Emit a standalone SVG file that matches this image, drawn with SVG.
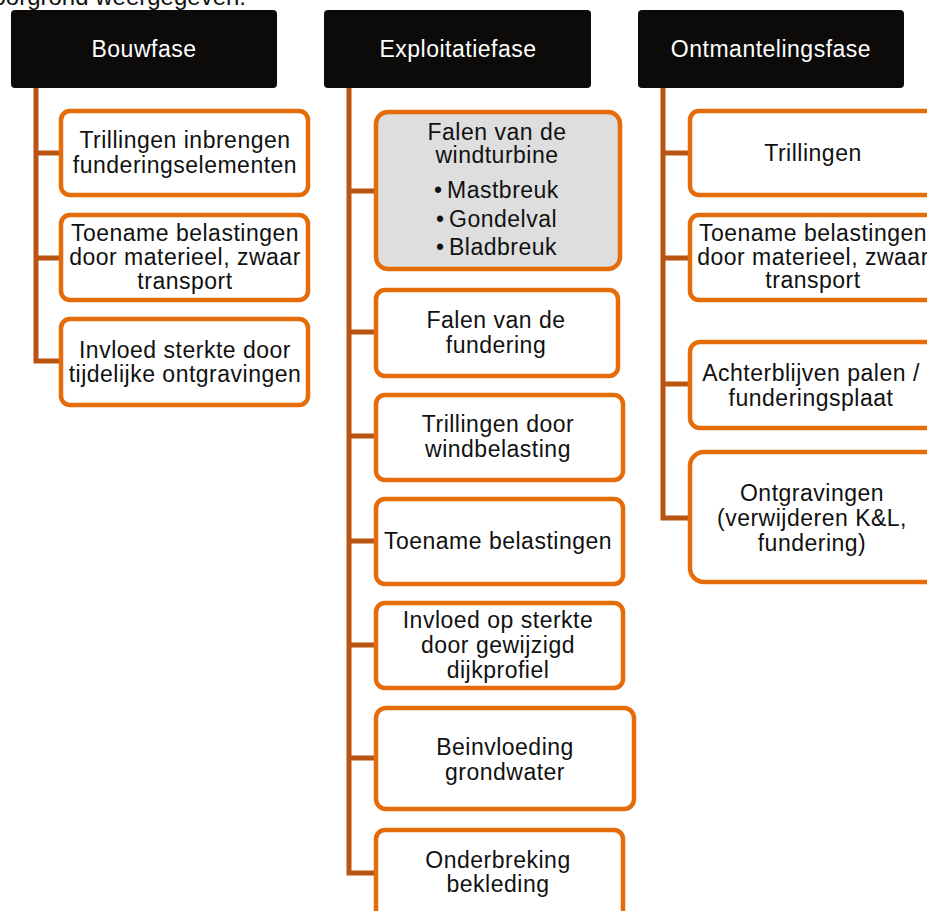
<svg xmlns="http://www.w3.org/2000/svg" width="927" height="911" viewBox="0 0 927 911">
<style>
text{font-family:"Liberation Sans",Arial,sans-serif;font-size:23px;fill:#111;text-anchor:middle;letter-spacing:0.5px}
.hdr rect{fill:#0d0b0a}
.hdr text{fill:#fff}
.box rect{fill:#fff;stroke:#e46c0a;stroke-width:4.5}
.box.grey rect{fill:#dedede}
.conn path{fill:none;stroke:#bb5312;stroke-width:5}
.l{text-anchor:start}
</style>
<rect width="927" height="911" fill="#fff"/>
<text x="246" y="5" style="text-anchor:end;font-size:24px;letter-spacing:0">voorgrond weergegeven.</text>

<g class="conn" id="connectors">
<path d="M36,88 V361 M36,153 H61 M36,258 H61 M33.5,361 H61"/>
<path d="M349,88 V873 M349,191 H374 M349,332 H374 M349,436 H374 M349,541 H374 M349,645 H374 M349,758 H374 M346.5,873 H374"/>
<path d="M663,88 V518 M663,153 H688 M663,258 H688 M663,384 H688 M660.5,518 H688"/>
</g>

<g class="hdr" id="h-bouw"><rect x="11" y="10" width="266" height="78" rx="4"/><text x="144" y="57">Bouwfase</text></g>
<g class="hdr" id="h-expl"><rect x="324" y="10" width="267" height="78" rx="4"/><text x="458" y="57">Exploitatiefase</text></g>
<g class="hdr" id="h-ont"><rect x="638" y="10" width="266" height="78" rx="4"/><text x="771" y="57">Ontmantelingsfase</text></g>

<g class="box" id="b1"><rect x="61" y="111" width="247" height="84" rx="9"/><text x="185" y="148">Trillingen inbrengen</text><text x="185" y="173">funderingselementen</text></g>
<g class="box" id="b2"><rect x="61" y="215" width="247" height="85" rx="9"/><text x="185" y="241">Toename belastingen</text><text x="185" y="265">door materieel, zwaar</text><text x="185" y="289">transport</text></g>
<g class="box" id="b3"><rect x="61" y="319" width="247" height="86" rx="9"/><text x="185" y="358">Invloed sterkte door</text><text x="185" y="382">tijdelijke ontgravingen</text></g>

<g class="box grey" id="e1"><rect x="376" y="112" width="244" height="157" rx="12"/>
<text x="497" y="140">Falen van de</text><text x="497" y="163">windturbine</text>
<text class="l" x="434" y="198">•</text><text class="l" x="447" y="198">Mastbreuk</text>
<text class="l" x="436" y="227">•</text><text class="l" x="449" y="227">Gondelval</text>
<text class="l" x="436" y="255">•</text><text class="l" x="449" y="255">Bladbreuk</text></g>
<g class="box" id="e2"><rect x="376" y="290" width="242" height="86" rx="9"/><text x="496" y="328">Falen van de</text><text x="496" y="353">fundering</text></g>
<g class="box" id="e3"><rect x="376" y="395" width="247" height="85" rx="9"/><text x="498" y="432">Trillingen door</text><text x="498" y="457">windbelasting</text></g>
<g class="box" id="e4"><rect x="376" y="499" width="247" height="85" rx="9"/><text x="498" y="549">Toename belastingen</text></g>
<g class="box" id="e5"><rect x="376" y="603" width="247" height="85" rx="9"/><text x="498" y="628">Invloed op sterkte</text><text x="498" y="653">door gewijzigd</text><text x="498" y="678">dijkprofiel</text></g>
<g class="box" id="e6"><rect x="376" y="708" width="258" height="101" rx="10"/><text x="505" y="755">Beinvloeding</text><text x="505" y="780">grondwater</text></g>
<g class="box" id="e7"><rect x="376" y="830" width="247" height="90" rx="9"/><text x="498" y="868">Onderbreking</text><text x="498" y="892">bekleding</text></g>

<g class="box" id="o1"><rect x="690" y="111" width="250" height="84" rx="9"/><text x="813" y="161">Trillingen</text></g>
<g class="box" id="o2"><rect x="690" y="215" width="250" height="85" rx="9"/><text x="813" y="241">Toename belastingen</text><text x="813" y="265">door materieel, zwaar</text><text x="813" y="288">transport</text></g>
<g class="box" id="o3"><rect x="690" y="342" width="250" height="86" rx="10"/><text x="811" y="381">Achterblijven palen /</text><text x="811" y="406">funderingsplaat</text></g>
<g class="box" id="o4"><rect x="690" y="452" width="250" height="130" rx="14"/><text x="812" y="501">Ontgravingen</text><text x="812" y="526">(verwijderen K&amp;L,</text><text x="812" y="551">fundering)</text></g>
</svg>
